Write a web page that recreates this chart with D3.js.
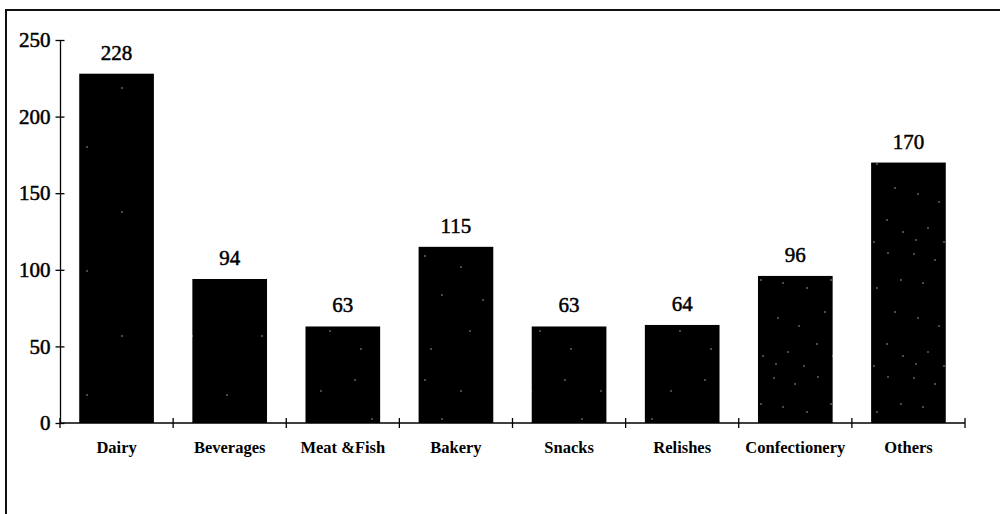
<!DOCTYPE html>
<html>
<head>
<meta charset="utf-8">
<script src="https://cdn.jsdelivr.net/npm/d3@7"></script>
<style>
  html, body { margin: 0; padding: 0; background: #fff; }
  svg { display: block; }
  text { font-family: "Liberation Serif", "Times New Roman", serif; fill: #000; }
</style>
</head>
<body>
<svg id="chart" width="1000" height="514"></svg>
<script>
// Product groups and their counts
const categories = ["Dairy", "Beverages", "Meat &Fish", "Bakery", "Snacks", "Relishes", "Confectionery", "Others"];
const counts = [228, 94, 63, 115, 63, 64, 96, 170];
const yTicks = [0, 50, 100, 150, 200, 250];

// Print-like speckle texture for each bar (sparse / medium / dense)
const speckle = ["sparse", "sparse", "medium", "medium", "medium", "medium", "dense", "dense"];

const svg = d3.select("#chart");

// Outer frame
svg.append("rect")
  .attr("x", 6).attr("y", 10)
  .attr("width", 1010).attr("height", 520)
  .attr("fill", "none").attr("stroke", "#111").attr("stroke-width", 2);

// Speckle patterns: hand-placed white dots in a small tile
const defs = svg.append("defs");
const tiles = {
  sparse: [[17, 23], [52, 88]],
  medium: [[5, 8], [41, 19], [63, 52], [22, 47], [50, 83], [11, 101]],
  dense: [[4, 6], [25, 12], [48, 5], [61, 32], [13, 35], [37, 40], [55, 64], [8, 70], [29, 78], [47, 96], [18, 104], [63, 108], [34, 118], [6, 116]]
};
Object.entries(tiles).forEach(([name, dots]) => {
  const p = defs.append("pattern")
    .attr("id", "speckle-" + name)
    .attr("patternUnits", "userSpaceOnUse")
    .attr("width", 70).attr("height", 124);
  p.append("rect").attr("width", 70).attr("height", 124).attr("fill", "#000");
  p.selectAll("circle").data(dots).join("circle")
    .attr("cx", d => d[0]).attr("cy", d => d[1])
    .attr("r", 0.75).attr("fill", "#fff").attr("opacity", 0.7);
});

const x = d3.scaleBand()
  .domain(categories)
  .range([60, 965])
  .paddingInner(0.34)
  .paddingOuter(0.17);

const y = d3.scaleLinear()
  .domain([0, 250])
  .range([423, 40]);

// Bars
svg.append("g").selectAll("rect")
  .data(categories)
  .join("rect")
  .attr("x", d => x(d))
  .attr("y", (d, i) => y(counts[i]))
  .attr("width", x.bandwidth())
  .attr("height", (d, i) => y(0) - y(counts[i]))
  .attr("fill", (d, i) => "url(#speckle-" + speckle[i] + ")");

// Value labels above bars
svg.append("g").selectAll("text")
  .data(categories)
  .join("text")
  .attr("x", d => x(d) + x.bandwidth() / 2)
  .attr("y", (d, i) => y(counts[i]) - 14)
  .attr("text-anchor", "middle")
  .attr("font-size", 21)
  .attr("stroke", "#000").attr("stroke-width", 0.5)
  .text((d, i) => counts[i]);

// Y axis with crossing tick marks
const yAxis = svg.append("g")
  .attr("transform", "translate(60,0)")
  .call(d3.axisLeft(y).tickValues(yTicks).tickSizeInner(4.5).tickSizeOuter(0).tickPadding(5));
yAxis.select(".domain").attr("stroke", "#000").attr("stroke-width", 1.3);
yAxis.selectAll(".tick line").attr("x2", 4.5).attr("x1", -4.5).attr("stroke", "#000").attr("stroke-width", 1.3);
yAxis.selectAll(".tick text")
  .attr("font-family", "Liberation Serif, Times New Roman, serif")
  .attr("font-size", 21)
  .attr("fill", "#000")
  .attr("stroke", "#000").attr("stroke-width", 0.5);

// X axis: baseline with crossing ticks at category boundaries
const x0 = x.range()[0];
const boundaries = d3.range(categories.length + 1).map(i => x0 + i * x.step());
const xAxis = svg.append("g");
xAxis.append("line")
  .attr("x1", x0).attr("x2", boundaries[boundaries.length - 1])
  .attr("y1", y(0)).attr("y2", y(0))
  .attr("stroke", "#000").attr("stroke-width", 1.3);
xAxis.selectAll("line.tick")
  .data(boundaries)
  .join("line")
  .attr("class", "tick")
  .attr("x1", d => d).attr("x2", d => d)
  .attr("y1", y(0) - 5).attr("y2", y(0) + 5)
  .attr("stroke", "#000").attr("stroke-width", 1.3);

// Category labels
svg.append("g").selectAll("text")
  .data(categories)
  .join("text")
  .attr("x", d => x(d) + x.bandwidth() / 2)
  .attr("y", 453)
  .attr("text-anchor", "middle")
  .attr("font-size", 16.5)
  .attr("font-weight", "bold")
  .text(d => d);
</script>
</body>
</html>
